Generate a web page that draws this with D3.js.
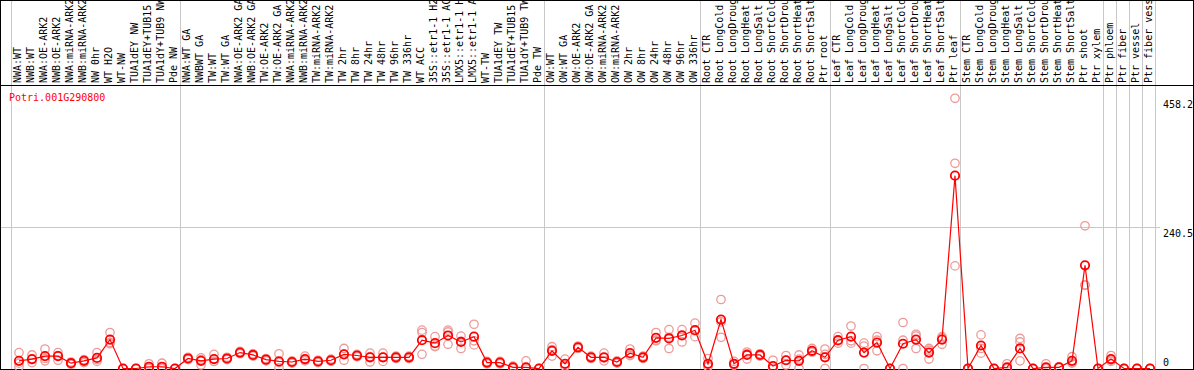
<!DOCTYPE html>
<html>
<head>
<meta charset="utf-8">
<script src="https://cdn.jsdelivr.net/npm/d3@7"></script>
<style>
  body { margin: 0; background: #fff; }
  svg { display: block; }
  text { font-family: "DejaVu Sans Mono", monospace; font-size: 10px; }
</style>
</head>
<body>
<svg id="chart"></svg>
<script>
// expression profile, one column per sample

var gene = "Potri.001G290800";

var samples = [
  "NWA:WT", "NWB:WT", "NWA:OE-ARK2", "NWB:OE-ARK2", "NWA:miRNA-ARK2", "NWB:miRNA-ARK2",
  "NW 0hr", "WT H2O", "WT-NW", "TUA1dEY NW", "TUA1dEY+TUB15", "TUA1dY+TUB9 NW", "Pde NW",
  "NWA:WT GA", "NWBWT GA", "TW:WT", "TW:WT GA", "NWA:OE-ARK2 GA", "NWB:OE-ARK2 GA",
  "TW:OE-ARK2", "TW:OE-ARK2 GA", "NWA:miRNA-ARK2", "NWB:miRNA-ARK2", "TW:miRNA-ARK2",
  "TW:miRNA-ARK2", "TW 2hr", "TW 8hr", "TW 24hr", "TW 48hr", "TW 96hr", "TW 336hr",
  "WT ACC", "35S::etr1-1 H2O", "35S::etr1-1 ACC", "LMX5::etr1-1 H2O", "LMX5::etr1-1 ACC",
  "WT-TW", "TUA1dEY TW", "TUA1dEY+TUB15", "TUA1dY+TUB9 TW", "Pde TW",
  "OW:WT", "OW:WT GA", "OW:OE-ARK2", "OW:OE-ARK2 GA", "OW:miRNA-ARK2", "OW:miRNA-ARK2",
  "OW 2hr", "OW 8hr", "OW 24hr", "OW 48hr", "OW 96hr", "OW 336hr",
  "Root CTR", "Root LongCold", "Root LongDrought", "Root LongHeat", "Root LongSalt",
  "Root ShortCold", "Root ShortDrought", "Root ShortHeat", "Root ShortSalt", "Ptr root",
  "Leaf CTR", "Leaf LongCold", "Leaf LongDrought", "Leaf LongHeat", "Leaf LongSalt",
  "Leaf ShortCold", "Leaf ShortDrought", "Leaf ShortHeat", "Leaf ShortSalt", "Ptr leaf",
  "Stem CTR", "Stem LongCold", "Stem LongDrought", "Stem LongHeat", "Stem LongSalt",
  "Stem ShortCold", "Stem ShortDrought", "Stem ShortHeat", "Stem ShortSalt", "Ptr shoot",
  "Ptr xylem", "Ptr phloem", "Ptr fiber", "Ptr vessel", "Ptr fiber vessel"
];

// index of first sample of each block (last entry = end)
var separators = [0, 13, 41, 53, 63, 73, 84, 85, 86, 87, 88];

var means = [
  13, 16, 21, 21, 9, 13, 18, 49, 0, 0, 3, 3, 0,
  17, 13, 16, 17, 27, 23, 15, 12, 11, 16, 12, 14, 24, 22, 19, 19, 19, 19,
  48, 43, 56, 45, 54, 10, 10, 2, 2, 0,
  30, 8, 36, 19, 19, 11, 26, 19, 52, 51, 56, 65,
  8, 83, 8, 23, 23, 4, 14, 13, 30, 19,
  48, 54, 27, 44, 0, 42, 49, 27, 49, 327,
  0, 39, 0, 2, 34, 0, 2, 2, 13, 175, 0,
  16, 0, 0, 0
];

var replicates = [
  [27, 9, 3], [23, 10, 15], [33, 13, 17], [27, 14, 22], [9, 7, 11], [15, 10, 14],
  [27, 12, 15], [61, 42, 44], [0, 0, 0], [0, 0, 0], [8, 0, 0], [9, 0, 0], [0, 0, 0],
  [17, 15, 19], [18, 6, 15], [24, 12, 12], [17, 15, 19], [27, 25, 29], [23, 21, 25],
  [15, 13, 17], [25, 10, 1], [11, 9, 13], [21, 13, 14], [12, 10, 14], [14, 12, 16],
  [34, 14, 24], [22, 20, 24], [26, 11, 20], [26, 12, 19], [21, 17, 19], [19, 17, 21],
  [65, 61, 24], [54, 38, 37], [62, 41, 65], [55, 34, 46], [75, 40, 47],
  [10, 8, 12], [12, 8, 10], [4, 2, 0], [13, 0, 0], [0, 0, 0],
  [37, 21, 32], [16, 4, 4], [36, 34, 38], [19, 17, 21], [26, 13, 18], [11, 9, 13],
  [33, 22, 23], [19, 17, 21], [61, 48, 47], [66, 34, 53], [66, 45, 57], [77, 54, 64],
  [17, 4, 3], [117, 53, 79], [12, 6, 6], [28, 16, 25], [23, 21, 25], [14, 0, 0],
  [22, 6, 14], [23, 0, 16], [34, 28, 28], [33, 0, 24],
  [54, 43, 47], [72, 43, 47], [43, 0, 38], [54, 30, 48], [0, 0, 0], [78, 0, 48],
  [58, 34, 55], [34, 16, 31], [54, 41, 52], [458.2, 348, 174],
  [0, 0, 0], [57, 26, 34], [0, 0, 0], [8, 0, 0], [51, 13, 45], [0, 0, 0],
  [8, 0, 0], [3, 2, 1], [20, 10, 9], [242, 141, 142], [0, 0, 0],
  [22, 12, 14], [0, 0, 0], [0, 0, 0], [0, 0, 0]
];

var yTicks = [458.2, 240.5, 0];

var width = 1194, height = 370;
var headerY = 85, bottomY = 369;

var svg = d3.select("#chart")
  .attr("width", width)
  .attr("height", height);

var band = d3.scaleBand()
  .domain(d3.range(samples.length))
  .range([10.5, 10.5 + 13 * samples.length])
  .padding(0);

var x = i => band(i) + 8.5;
// left edge of column i, also works for the end (i == n)
var edge = i => i < samples.length ? band(i) : band(samples.length - 1) + band.bandwidth();

var y = d3.scaleLinear()
  .domain([0, 458.2])
  .range([368.5, 98.3]);

// grey block separators
svg.append("g")
  .selectAll("line")
  .data(separators)
  .join("line")
  .attr("x1", d => Math.round(edge(d)) + 0.5)
  .attr("x2", d => Math.round(edge(d)) + 0.5)
  .attr("y1", 0)
  .attr("y2", bottomY)
  .attr("stroke", "#c8c8c8");

// horizontal grid at middle tick
svg.append("line")
  .attr("x1", 0)
  .attr("x2", 1160)
  .attr("y1", Math.round(y(240.5)) + 0.5)
  .attr("y2", Math.round(y(240.5)) + 0.5)
  .attr("stroke", "#c8c8c8");

// frame + header line
svg.append("rect")
  .attr("x", 0.5).attr("y", 0.5)
  .attr("width", width - 1).attr("height", bottomY)
  .attr("fill", "none")
  .attr("stroke", "#000");
svg.append("line")
  .attr("x1", 0).attr("x2", width)
  .attr("y1", headerY + 0.5).attr("y2", headerY + 0.5)
  .attr("stroke", "#000");

// sample labels, rotated (long ones run off the top like the original)
svg.append("g")
  .selectAll("text")
  .data(samples)
  .join("text")
  .attr("transform", (d, i) => `translate(${x(i) + 1.5},${headerY - 2}) rotate(-90)`)
  .attr("fill", "#000")
  .text(d => d);

// y labels on the right
svg.append("g")
  .selectAll("text")
  .data(yTicks)
  .join("text")
  .attr("x", 1163)
  .attr("y", d => d === 0 ? 366 : y(d) + 10)
  .attr("fill", "#000")
  .text(d => d);

// title
svg.append("text")
  .attr("x", 9)
  .attr("y", 101)
  .attr("fill", "#ff0000")
  .text(gene);

// replicates
var reps = [];
replicates.forEach((r, i) => r.forEach(v => reps.push({i: i, v: v})));

svg.append("g")
  .selectAll("circle")
  .data(reps)
  .join("circle")
  .attr("cx", d => x(d.i))
  .attr("cy", d => y(d.v))
  .attr("r", 4.2)
  .attr("fill", "none")
  .attr("stroke", "#ee9a9a")
  .attr("stroke-width", 1.3);

// mean line
var line = d3.line()
  .x((d, i) => x(i))
  .y(d => y(d));

svg.append("path")
  .datum(means)
  .attr("d", line)
  .attr("fill", "none")
  .attr("stroke", "#ff0000")
  .attr("stroke-width", 1.2);

svg.append("g")
  .selectAll("circle")
  .data(means)
  .join("circle")
  .attr("cx", (d, i) => x(i))
  .attr("cy", d => y(d))
  .attr("r", 4.2)
  .attr("fill", "none")
  .attr("stroke", "#ff0000")
  .attr("stroke-width", 1.8);
</script>
</body>
</html>
